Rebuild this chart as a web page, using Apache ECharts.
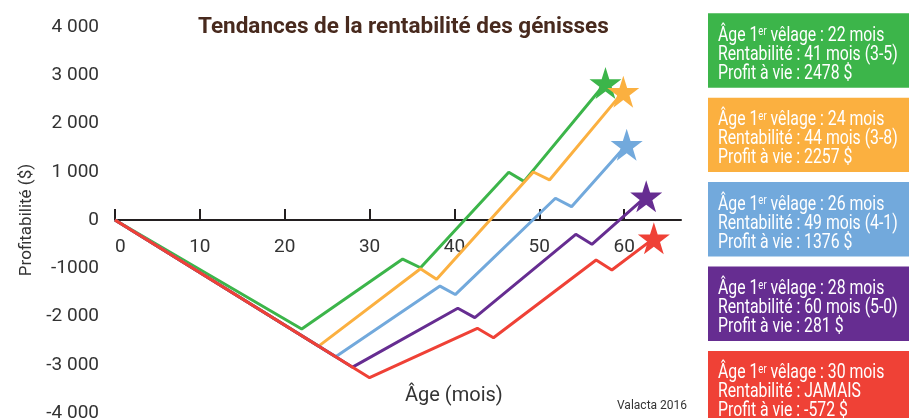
<!DOCTYPE html>
<html>
<head>
<meta charset="utf-8">
<script src="https://cdn.jsdelivr.net/npm/echarts@6/dist/echarts.min.js"></script>
<style>
  html, body { margin: 0; padding: 0; background: #fff; }
  #chart { width: 909px; height: 418px; }
</style>
</head>
<body>
<div id="chart"></div>
<script>
// profit curves: age (months) / profit ($)
const monthsG = [0, 22, 33.9, 36, 46.4, 48.2, 57.8];
const profitG = [0, -2260, -810, -990, 990, 800, 2840];
const monthsO = [0, 24, 36, 37.9, 49.3, 51.2, 59.9];
const profitO = [0, -2614, -1010, -1230, 995, 830, 2660];
const monthsB = [0, 26, 38.3, 40.1, 51.9, 53.8, 60.3];
const profitB = [0, -2832, -1370, -1545, 450, 276, 1560];
const monthsP = [0, 28, 40.4, 42.4, 54.3, 56.2, 62.6];
const profitP = [0, -3050, -1830, -2024, -296, -504, 490];
const monthsR = [0, 30, 42.7, 44.6, 56.7, 58.55, 63.5];
const profitR = [0, -3268, -2245, -2439, -829, -1036, -380];

// legend boxes
const firstCalving = [22, 24, 26, 28, 30];
const breakEven = ['41 mois (3-5)', '44 mois (3-8)', '49 mois (4-1)', '60 mois (5-0)', 'JAMAIS'];
const lifeProfit = ['2478', '2257', '1376', '281', '-572'];

// axis ticks
const xTickValues = [0, 10, 20, 30, 40, 50, 60];
const yTickValues = [-4000, -3000, -2000, -1000, 0, 1000, 2000, 3000, 4000];
const yTickLabels = ['-4 000', '-3 000', '-2 000', '-1000', '0', '1 000', '2 000', '3 000', '4 000'];

const colors = ['#3cb54a', '#fbb040', '#72a9dc', '#662d91', '#ef4136'];
const curves = [
  [monthsG, profitG],
  [monthsO, profitO],
  [monthsB, profitB],
  [monthsP, profitP],
  [monthsR, profitR]
];

const starPath = 'path://M50,0 L61.8,35.4 L99,35.4 L68.9,57.3 L80.3,92.7 L50,70.8 L19.7,92.7 L31.1,57.3 L1,35.4 L38.2,35.4 Z';

const chart = echarts.init(document.getElementById('chart'));

const lineSeries = curves.map(function (c, i) {
  return {
    type: 'line',
    data: c[0].map(function (m, k) { return [m, c[1][k]]; }),
    symbol: 'none',
    lineStyle: { width: 3, color: colors[i] },
    itemStyle: { color: colors[i] },
    z: 2 + i * 0.01,
    animation: false
  };
});

const starSeries = {
  type: 'scatter',
  symbol: starPath,
  symbolSize: 32,
  z: 5,
  animation: false,
  data: curves.map(function (c, i) {
    const last = c[0].length - 1;
    return { value: [c[0][last], c[1][last]], itemStyle: { color: colors[i], opacity: 1 } };
  })
};

// coloured boxes on the right, condensed look via horizontal scale
const boxes = [];
firstCalving.forEach(function (age, i) {
  const top = 13.3 + i * 84.4;
  boxes.push({
    type: 'rect',
    silent: true,
    shape: { x: 708, y: top, width: 201, height: 74.4 },
    style: { fill: colors[i] }
  });
  boxes.push({
    type: 'text',
    silent: true,
    x: 718,
    y: top + 13,
    scaleX: 0.79,
    style: {
      text: 'Âge 1{sup|er} vêlage : ' + age + ' mois\nRentabilité : ' + breakEven[i] + '\nProfit à vie : ' + lifeProfit[i] + ' $',
      fill: '#fff',
      fontSize: 20,
      fontFamily: 'Roboto',
      lineHeight: 19,
      align: 'left',
      verticalAlign: 'top',
      rich: {
        sup: { fontSize: 12, fill: '#fff', verticalAlign: 'top', fontFamily: 'Roboto' }
      }
    }
  });
});

const option = {
  backgroundColor: '#fff',
  textStyle: { fontFamily: 'Roboto' },
  title: [
    {
      text: 'Tendances de la rentabilité des génisses',
      left: 198, top: 16, padding: 0,
      textStyle: { fontSize: 22.5, fontWeight: 'bold', color: '#482a1e', fontFamily: 'Roboto' }
    },
    {
      text: 'Âge (mois)',
      left: 405, top: 386, padding: 0,
      textStyle: { fontSize: 20, fontWeight: 'normal', color: '#333', fontFamily: 'Roboto' }
    },
    {
      text: 'Valacta 2016',
      left: 617, top: 400, padding: 0,
      textStyle: { fontSize: 12, fontWeight: 'normal', color: '#333', fontFamily: 'Roboto' }
    }
  ],
  grid: { left: 115, right: 228, top: 27, bottom: 5, containLabel: false, outerBoundsMode: 'none' },
  xAxis: {
    type: 'value',
    min: 0,
    max: 66.7,
    offset: -193,
    axisLine: { onZero: false, lineStyle: { color: '#231f20', width: 2 } },
    axisTick: { inside: true, length: 11, lineStyle: { color: '#231f20', width: 2 }, customValues: xTickValues },
    axisLabel: { fontSize: 19, color: '#333', margin: 18, alignMinLabel: 'left', customValues: xTickValues },
    splitLine: { show: false }
  },
  yAxis: {
    type: 'value',
    min: -4000,
    max: 4000,
    interval: 1000,
    name: 'Profitabilité ($)',
    nameLocation: 'middle',
    nameGap: 79,
    nameTextStyle: { fontSize: 17, color: '#333' },
    axisLine: { show: false },
    axisTick: { show: false },
    splitLine: { show: false },
    axisLabel: {
      fontSize: 19,
      color: '#333',
      margin: 16,
      formatter: function (v) {
        const k = yTickValues.indexOf(v);
        return k >= 0 ? yTickLabels[k] : '';
      }
    }
  },
  graphic: boxes,
  series: lineSeries.concat([starSeries])
};

chart.setOption(option);
</script>
</body>
</html>
